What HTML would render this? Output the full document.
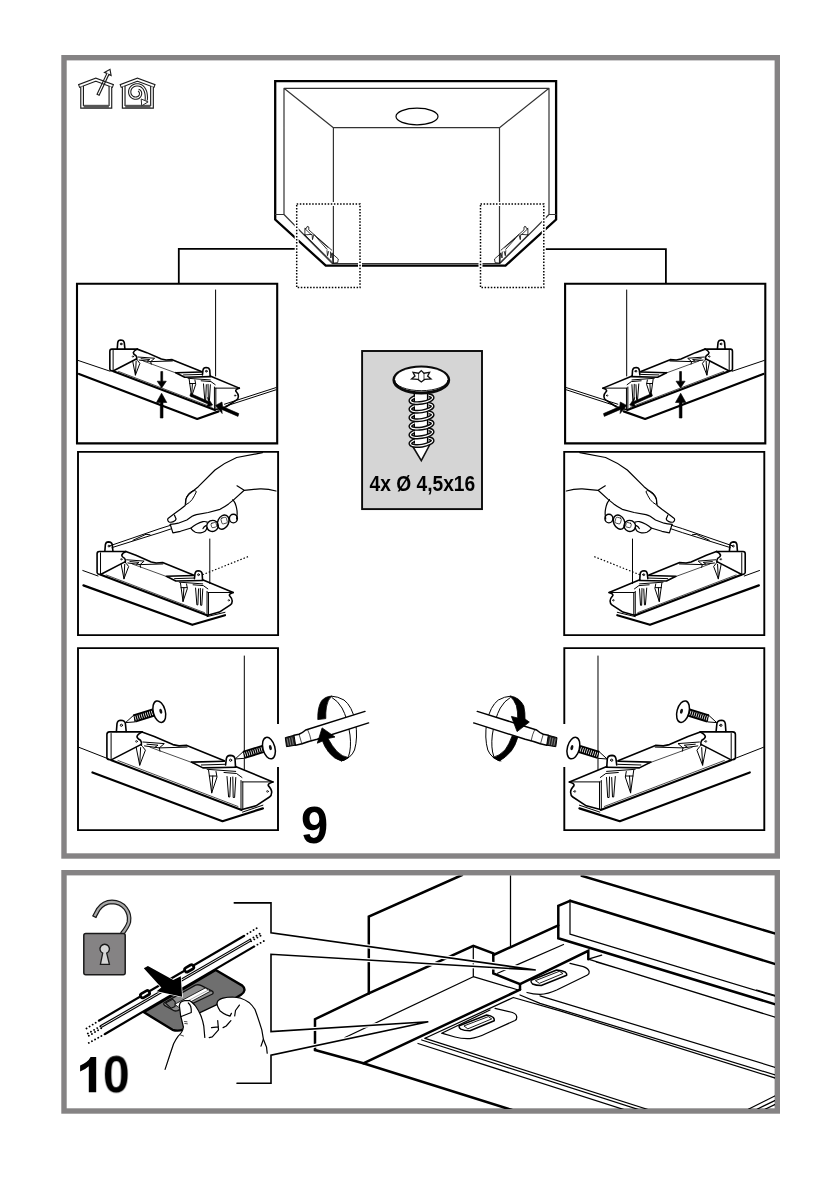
<!DOCTYPE html>
<html><head><meta charset="utf-8">
<style>
html,body{margin:0;padding:0;background:#fff;}
body{width:840px;height:1190px;overflow:hidden;font-family:"Liberation Sans",sans-serif;}
svg{display:block;position:absolute;left:0;top:0;}
text{font-family:"Liberation Sans",sans-serif;font-weight:bold;fill:#000;}
svg{will-change:transform;}
.k{vector-effect:non-scaling-stroke;fill:none;stroke:#000;stroke-width:1.6;stroke-linejoin:round;stroke-linecap:round;}
.t{vector-effect:non-scaling-stroke;fill:none;stroke:#000;stroke-width:1;stroke-linejoin:round;stroke-linecap:round;}
.h{vector-effect:non-scaling-stroke;fill:none;stroke:#000;stroke-width:0.7;stroke-linejoin:round;stroke-linecap:round;}
.b{fill:none;stroke:#000;stroke-width:2.4;stroke-linejoin:miter;}
.w{fill:#fff;stroke:#000;stroke-width:1.2;stroke-linejoin:round;}
</style></head>
<body>
<svg width="840" height="1190" viewBox="0 0 840 1190">

<rect x="64" y="57.7" width="713.3" height="798.3" fill="#fff" stroke="#858384" stroke-width="5.4" />
<rect x="64" y="872.7" width="713.3" height="238.3" fill="#fff" stroke="#858384" stroke-width="5.4" />

<g id="icons">
<g id="house">
<path d="M82.1 86V106.8H110.4V86" fill="none" stroke="#1c1c1c" stroke-width="3.8" stroke-linejoin="miter" />
<path d="M78.6 86.2L95.8 79.6L113.4 86.2" fill="none" stroke="#1c1c1c" stroke-width="4" stroke-linejoin="miter" />
<path d="M82.1 86.5V106.8H110.4V86.5" fill="none" stroke="#fff" stroke-width="1.5" stroke-linejoin="miter" />
<path d="M79.6 85.9L95.8 79.6L112.4 85.9" fill="none" stroke="#fff" stroke-width="1.7" stroke-linejoin="miter" />
<rect x="83.6" y="104.8" width="25.3" height="3.8" fill="#555" />
</g>
<g transform="translate(41.6,0)"><g>
<path d="M82.1 86V106.8H110.4V86" fill="none" stroke="#1c1c1c" stroke-width="3.8" stroke-linejoin="miter" />
<path d="M78.6 86.2L95.8 79.6L113.4 86.2" fill="none" stroke="#1c1c1c" stroke-width="4" stroke-linejoin="miter" />
<path d="M82.1 86.5V106.8H110.4V86.5" fill="none" stroke="#fff" stroke-width="1.5" stroke-linejoin="miter" />
<path d="M79.6 85.9L95.8 79.6L112.4 85.9" fill="none" stroke="#fff" stroke-width="1.7" stroke-linejoin="miter" />
<rect x="83.6" y="104.8" width="25.3" height="3.8" fill="#555" />
</g>
</g>
<path d="M97.06 94.2L106.9 73.4L104.5 72.4L110 69.3L111.1 75.5L108.9 74.4L99.14 95.2Z" fill="none" stroke="#1c1c1c" stroke-width="1.15" />
<path d="M138.3 90.3 L138.9 90.5 L139.4 90.9 L139.9 91.4 L140.3 92.0 L140.5 92.7 L140.6 93.5 L140.5 94.4 L140.2 95.3 L139.8 96.2 L139.1 96.9 L138.2 97.6 L137.1 98.0 L135.9 98.2 L134.7 98.1 L133.4 97.7 L132.3 97.1 L131.3 96.2 L130.4 95.0 L129.9 93.6 L129.7 92.2 L129.8 90.7 L130.2 89.2 L131.0 87.8 L132.1 86.7 L133.4 85.8 L134.9 85.2 L136.4 84.9 L138.0 84.9 L139.6 85.2 L141.2 85.8 L142.6 86.8 L143.7 88.0 L144.6 89.5 L145.4 91.2 L145.9 93.0 L146.2 95.0 L146.4 97.5 L146.2 100.3" fill="none" stroke="#1c1c1c" stroke-width="3.3" stroke-linecap="butt" stroke-linejoin="round" />
<path d="M138.3 90.3 L138.9 90.5 L139.4 90.9 L139.9 91.4 L140.3 92.0 L140.5 92.7 L140.6 93.5 L140.5 94.4 L140.2 95.3 L139.8 96.2 L139.1 96.9 L138.2 97.6 L137.1 98.0 L135.9 98.2 L134.7 98.1 L133.4 97.7 L132.3 97.1 L131.3 96.2 L130.4 95.0 L129.9 93.6 L129.7 92.2 L129.8 90.7 L130.2 89.2 L131.0 87.8 L132.1 86.7 L133.4 85.8 L134.9 85.2 L136.4 84.9 L138.0 84.9 L139.6 85.2 L141.2 85.8 L142.6 86.8 L143.7 88.0 L144.6 89.5 L145.4 91.2 L145.9 93.0 L146.2 95.0 L146.4 97.5 L146.2 100.3" fill="none" stroke="#fff" stroke-width="1.2" stroke-linecap="butt" stroke-linejoin="round" />
<path d="M141.2 99L148.1 101.9L141.7 105.8Z" fill="#fff" stroke="#2a2a2a" stroke-width="1" />
</g>

<g id="s9">
<defs>
</defs>
<g id="p1">
<path class="t" d="M78 360.4L110 371.2 M215.6 290V376" />
<path class="k" style="stroke-width:2.2" d="M79 374L197.2 419L218.6 411.4" />
<path class="t" d="M224.5 404.2L276 387.6 M225.5 406.2L276 389.8" />
<g transform="translate(120.6,340) scale(0.78) translate(-120.7,-720.2)"><g>

<path class="k" d="M142 731.9H109.5Q106.9 732 106.9 734.6V757.5Q107 759.6 109.5 759.8L111.4 760" />
<path class="t" d="M111.1 733.5V759.5" />
<path class="k" d="M111.7 759.6L140.8 744.6" />
<path class="k" d="M116.4 731.5L117 723.6Q117.6 720.2 120.8 720.2Q124.8 720.3 125.4 723.6L126.2 731.5" />
<circle class="t" cx="121.4" cy="725.3" r="1.1" />

<path class="k" d="M142 731.9Q137.5 734 137 736.5Q137 738.5 140.5 740.3Q141.8 742 141.4 745.3" />
<circle class="h" cx="136.5" cy="741.4" r="0.9" />

<path class="k" d="M142 731.9L154.3 736.4L172.9 744.6L179 745.9L186.8 745.4L224.3 760.7" />

<path class="t" d="M142.9 742L164.3 743.6L159.3 747.9L144.5 745.9 M159.3 747.9L187.1 747.1 M159.3 747.9L160 751.2 M147 744.2L158 745.2L155 747.2" />
<path class="h" d="M150 747.2L192.9 762.9" />

<path class="t" d="M136.2 747.4L139.7 765.2L145.4 750.2L142.6 746.6 M139.7 765.2L140.6 747.6" />

<path class="k" d="M191.4 762.1L224.3 761.2 M191.4 762.1L202.9 767.9L236 767.2" />
<path class="t" d="M201.4 765L224.6 764.3" />

<path class="k" d="M225.6 765L226.3 758.8Q227 755.4 230.2 755.4Q234.4 755.5 235 758.8L235.5 766.4" />
<circle class="t" cx="230.6" cy="760.2" r="1.1" />

<path class="k" d="M235.5 766.4L272.9 781.9" />

<path class="k" d="M272.9 781.9Q267.6 783.6 268.3 785.6Q271.8 789.5 271.7 792.2Q271.6 795.6 269.5 797L256 805.8L242 809.6" />
<circle class="h" cx="267.5" cy="791.4" r="0.9" />
<path class="t" d="M242 781.9H270.5 M241 780.5V809.6 M242.8 782V809" />

<path class="t" d="M207.1 769.3L235.7 771.4 M208.6 770.4L211.7 792.9L217 777L216 771.5 M211.7 792.9L212.8 776 M209.3 776H216.6" />

<path class="t" d="M227 776.5L228.6 797L229.8 797L230.6 777.5 M232.8 777L233.2 797.5L234.6 797.5L235.8 777.5 M224 772.5L236.5 773.5L242 777.5" />

<path class="k" style="stroke-width:2" d="M111.4 760.3L241.6 810" />
<path class="h" d="M118 760.5L238 806.5" />
</g>
</g>
<path d="M160.8 371.5H162.7V381.2H166.3L161.7 388L157.2 381.2H160.8Z" fill="#000" stroke="#000" stroke-width="0.6" />
<path d="M160.3 418H163V402.5H166.8L161.6 393.2L156.4 402.5H160.3Z" fill="#000" stroke="#000" stroke-width="0.6" />
<path d="M190.6 393.5L208.6 401.5L207.6 397.4L212.6 405L207 406.9L208 404L189.9 396Z" fill="#000" stroke="#000" stroke-width="0.6" stroke-linejoin="round" />
<path d="M238.8 413.6L222.6 406.6L222 402L215.6 405.4L222.2 413.6L221.8 409.4L238 416.4Z" fill="#000" stroke="#000" stroke-width="0.6" stroke-linejoin="round" />
</g>
<g id="p2">
<path class="t" d="M82.8 570.5L98 576 M209.8 539V583.5" />
<path class="k" style="stroke-width:2.2" d="M83.4 585.4L192.3 624.8L225 615.2" />
<path class="t" d="M207.1 616.6L225 612.3" />
<path d="M202.4 574.8L249.6 556" fill="none" stroke="#000" stroke-width="1.2" stroke-dasharray="1.5 1.9" />
<g transform="translate(108.4,541.9) scale(0.82) translate(-120.7,-720.2)"><g>

<path class="k" d="M142 731.9H109.5Q106.9 732 106.9 734.6V757.5Q107 759.6 109.5 759.8L111.4 760" />
<path class="t" d="M111.1 733.5V759.5" />
<path class="k" d="M111.7 759.6L140.8 744.6" />
<path class="k" d="M116.4 731.5L117 723.6Q117.6 720.2 120.8 720.2Q124.8 720.3 125.4 723.6L126.2 731.5" />
<circle class="t" cx="121.4" cy="725.3" r="1.1" />

<path class="k" d="M142 731.9Q137.5 734 137 736.5Q137 738.5 140.5 740.3Q141.8 742 141.4 745.3" />
<circle class="h" cx="136.5" cy="741.4" r="0.9" />

<path class="k" d="M142 731.9L154.3 736.4L172.9 744.6L179 745.9L186.8 745.4L224.3 760.7" />

<path class="t" d="M142.9 742L164.3 743.6L159.3 747.9L144.5 745.9 M159.3 747.9L187.1 747.1 M159.3 747.9L160 751.2 M147 744.2L158 745.2L155 747.2" />
<path class="h" d="M150 747.2L192.9 762.9" />

<path class="t" d="M136.2 747.4L139.7 765.2L145.4 750.2L142.6 746.6 M139.7 765.2L140.6 747.6" />

<path class="k" d="M191.4 762.1L224.3 761.2 M191.4 762.1L202.9 767.9L236 767.2" />
<path class="t" d="M201.4 765L224.6 764.3" />

<path class="k" d="M225.6 765L226.3 758.8Q227 755.4 230.2 755.4Q234.4 755.5 235 758.8L235.5 766.4" />
<circle class="t" cx="230.6" cy="760.2" r="1.1" />

<path class="k" d="M235.5 766.4L272.9 781.9" />

<path class="k" d="M272.9 781.9Q267.6 783.6 268.3 785.6Q271.8 789.5 271.7 792.2Q271.6 795.6 269.5 797L256 805.8L242 809.6" />
<circle class="h" cx="267.5" cy="791.4" r="0.9" />
<path class="t" d="M242 781.9H270.5 M241 780.5V809.6 M242.8 782V809" />

<path class="t" d="M207.1 769.3L235.7 771.4 M208.6 770.4L211.7 792.9L217 777L216 771.5 M211.7 792.9L212.8 776 M209.3 776H216.6" />

<path class="t" d="M227 776.5L228.6 797L229.8 797L230.6 777.5 M232.8 777L233.2 797.5L234.6 797.5L235.8 777.5 M224 772.5L236.5 773.5L242 777.5" />

<path class="k" style="stroke-width:2" d="M111.4 760.3L241.6 810" />
<path class="h" d="M118 760.5L238 806.5" />
</g>
</g>

<path class="t" d="M110.5 545.6L160 528.6L170.2 525.4 M112 547.6L160 532.6L171.3 528.8 M133 540.3L146 534.3L150 534.8" />

<path class="t" style="stroke-width:1.2" d="M170.2 524.3L172.9 532.9L180.4 531.3L191.1 528" />

<path class="t" style="stroke-width:1.2" d="M262.5 452.7L236.7 457.5Q225 462.5 215 470L198.3 486.7L188.9 494.3Q185.7 498 185.7 500.2L185.2 505.5L180.4 509.3L173.9 514.1L168 518.4Q167 520.5 169.1 522.1Q171 522.6 173.4 521.6Q176 520.5 176.1 518.9L174.5 515.2" />
<path class="t" style="stroke-width:1.2" d="M170.2 524.3Q175 524 178.2 523.2L186.8 520L192.1 516.3Q194 515.2 196.4 514.6L208.2 512.5L220 509.3Q225 506.5 228.6 503.9L233.9 499.6L244.2 490.3L237 485.8 M244.2 490.3L260 488.8Q268 488.6 276 491" />
<path class="t" d="M185.7 503.9Q185.5 499 186.8 496.4Q189 492.5 192.1 491.1Q195.5 489.8 196.4 491.6Q194.5 496 192.1 499.6Q189.5 503 186.3 504.5" />
<path class="t" style="stroke-width:1.2" d="M232.9 499.6Q235.5 503 236.1 506.1Q237.4 511 237.1 514.6L236.6 518.9" />

<path class="t" style="stroke-width:1.2" d="M191.1 528Q193.5 526 196.4 524.3Q200 522.3 202.9 521.6Q205.5 521.3 207.1 522.1 M191.1 528.6Q193 531.2 195.4 532.3Q198 533.2 200.7 532.9Q203.2 532.4 205 531.3Q206.5 529.8 207.1 527.5 M203 528.6Q204 526.5 206 525.6" />
<ellipse class="t" style="stroke-width:1.4" cx="212.5" cy="525.9" rx="5.8" ry="5.5" transform="rotate(-25 212.5 525.9)" />
<ellipse class="t" style="stroke-width:1.4" cx="223.2" cy="522.1" rx="5.4" ry="7.4" transform="rotate(25 223.2 522.1)" />
<ellipse class="t" style="stroke-width:1.4" cx="233.4" cy="518.6" rx="4" ry="4.3" />
<rect class="h" x="211.2" y="522.8" width="5.2" height="4.6" rx="1.2" transform="rotate(-15 213.8 525)" />
<rect class="h" x="221.3" y="517.6" width="5.6" height="6" rx="1.3" transform="rotate(-15 224 520.5)" />
</g>
<g id="p3">
<path class="t" d="M78.9 747.3L110 759.5 M244.3 656V769.5" />
<path class="k" style="stroke-width:2.2" d="M92.5 772.5L222.5 821.2L262.9 808.4" />
<path class="t" d="M242.5 812.1L262.9 805.2" />
<g><g>

<path class="k" d="M142 731.9H109.5Q106.9 732 106.9 734.6V757.5Q107 759.6 109.5 759.8L111.4 760" />
<path class="t" d="M111.1 733.5V759.5" />
<path class="k" d="M111.7 759.6L140.8 744.6" />
<path class="k" d="M116.4 731.5L117 723.6Q117.6 720.2 120.8 720.2Q124.8 720.3 125.4 723.6L126.2 731.5" />
<circle class="t" cx="121.4" cy="725.3" r="1.1" />

<path class="k" d="M142 731.9Q137.5 734 137 736.5Q137 738.5 140.5 740.3Q141.8 742 141.4 745.3" />
<circle class="h" cx="136.5" cy="741.4" r="0.9" />

<path class="k" d="M142 731.9L154.3 736.4L172.9 744.6L179 745.9L186.8 745.4L224.3 760.7" />

<path class="t" d="M142.9 742L164.3 743.6L159.3 747.9L144.5 745.9 M159.3 747.9L187.1 747.1 M159.3 747.9L160 751.2 M147 744.2L158 745.2L155 747.2" />
<path class="h" d="M150 747.2L192.9 762.9" />

<path class="t" d="M136.2 747.4L139.7 765.2L145.4 750.2L142.6 746.6 M139.7 765.2L140.6 747.6" />

<path class="k" d="M191.4 762.1L224.3 761.2 M191.4 762.1L202.9 767.9L236 767.2" />
<path class="t" d="M201.4 765L224.6 764.3" />

<path class="k" d="M225.6 765L226.3 758.8Q227 755.4 230.2 755.4Q234.4 755.5 235 758.8L235.5 766.4" />
<circle class="t" cx="230.6" cy="760.2" r="1.1" />

<path class="k" d="M235.5 766.4L272.9 781.9" />

<path class="k" d="M272.9 781.9Q267.6 783.6 268.3 785.6Q271.8 789.5 271.7 792.2Q271.6 795.6 269.5 797L256 805.8L242 809.6" />
<circle class="h" cx="267.5" cy="791.4" r="0.9" />
<path class="t" d="M242 781.9H270.5 M241 780.5V809.6 M242.8 782V809" />

<path class="t" d="M207.1 769.3L235.7 771.4 M208.6 770.4L211.7 792.9L217 777L216 771.5 M211.7 792.9L212.8 776 M209.3 776H216.6" />

<path class="t" d="M227 776.5L228.6 797L229.8 797L230.6 777.5 M232.8 777L233.2 797.5L234.6 797.5L235.8 777.5 M224 772.5L236.5 773.5L242 777.5" />

<path class="k" style="stroke-width:2" d="M111.4 760.3L241.6 810" />
<path class="h" d="M118 760.5L238 806.5" />
</g>
</g>
<g><g>
<path d="M125.6 722.6L134.1 714.8L134.9 721.9Z" fill="#fff" stroke="#000" stroke-width="1" stroke-linejoin="round" />
<path d="M134.3 718.5L153.6 712.5" stroke="#000" stroke-width="8.2" fill="none" />
<path d="M135.2 718.2L153.6 712.5" stroke="#fff" stroke-width="4.6" fill="none" stroke-dasharray="0.75 1.4" />
<ellipse cx="159.3" cy="711.7" rx="6" ry="11" transform="rotate(-15 159.3 711.7)" fill="#fff" stroke="#000" stroke-width="1.5" />
<ellipse cx="160.8" cy="711.2" rx="1.4" ry="2.6" transform="rotate(-15 160.8 711.2)" fill="#111" />
</g>
</g>
<g transform="translate(109.6,36.4)"><g>
<path d="M125.6 722.6L134.1 714.8L134.9 721.9Z" fill="#fff" stroke="#000" stroke-width="1" stroke-linejoin="round" />
<path d="M134.3 718.5L153.6 712.5" stroke="#000" stroke-width="8.2" fill="none" />
<path d="M135.2 718.2L153.6 712.5" stroke="#fff" stroke-width="4.6" fill="none" stroke-dasharray="0.75 1.4" />
<ellipse cx="159.3" cy="711.7" rx="6" ry="11" transform="rotate(-15 159.3 711.7)" fill="#fff" stroke="#000" stroke-width="1.5" />
<ellipse cx="160.8" cy="711.2" rx="1.4" ry="2.6" transform="rotate(-15 160.8 711.2)" fill="#111" />
</g>
</g>
</g>
<g><g>
<path class="b" style="stroke-width:2.1" d="M77 283.7H277.2V443.4H77Z" />
<path class="b" style="stroke-width:1.9" d="M78 451.9H278.1V635.1H78Z" />
<path class="b" style="stroke-width:1.9" d="M278 724V648.1H78V830.1H278V767" />
</g>
</g>
<g transform="translate(842.3,0) scale(-1,1)"><g>
<path class="t" d="M82.8 570.5L98 576 M209.8 539V583.5" />
<path class="k" style="stroke-width:2.2" d="M83.4 585.4L192.3 624.8L225 615.2" />
<path class="t" d="M207.1 616.6L225 612.3" />
<path d="M202.4 574.8L249.6 556" fill="none" stroke="#000" stroke-width="1.2" stroke-dasharray="1.5 1.9" />
<g transform="translate(108.4,541.9) scale(0.82) translate(-120.7,-720.2)"><g>

<path class="k" d="M142 731.9H109.5Q106.9 732 106.9 734.6V757.5Q107 759.6 109.5 759.8L111.4 760" />
<path class="t" d="M111.1 733.5V759.5" />
<path class="k" d="M111.7 759.6L140.8 744.6" />
<path class="k" d="M116.4 731.5L117 723.6Q117.6 720.2 120.8 720.2Q124.8 720.3 125.4 723.6L126.2 731.5" />
<circle class="t" cx="121.4" cy="725.3" r="1.1" />

<path class="k" d="M142 731.9Q137.5 734 137 736.5Q137 738.5 140.5 740.3Q141.8 742 141.4 745.3" />
<circle class="h" cx="136.5" cy="741.4" r="0.9" />

<path class="k" d="M142 731.9L154.3 736.4L172.9 744.6L179 745.9L186.8 745.4L224.3 760.7" />

<path class="t" d="M142.9 742L164.3 743.6L159.3 747.9L144.5 745.9 M159.3 747.9L187.1 747.1 M159.3 747.9L160 751.2 M147 744.2L158 745.2L155 747.2" />
<path class="h" d="M150 747.2L192.9 762.9" />

<path class="t" d="M136.2 747.4L139.7 765.2L145.4 750.2L142.6 746.6 M139.7 765.2L140.6 747.6" />

<path class="k" d="M191.4 762.1L224.3 761.2 M191.4 762.1L202.9 767.9L236 767.2" />
<path class="t" d="M201.4 765L224.6 764.3" />

<path class="k" d="M225.6 765L226.3 758.8Q227 755.4 230.2 755.4Q234.4 755.5 235 758.8L235.5 766.4" />
<circle class="t" cx="230.6" cy="760.2" r="1.1" />

<path class="k" d="M235.5 766.4L272.9 781.9" />

<path class="k" d="M272.9 781.9Q267.6 783.6 268.3 785.6Q271.8 789.5 271.7 792.2Q271.6 795.6 269.5 797L256 805.8L242 809.6" />
<circle class="h" cx="267.5" cy="791.4" r="0.9" />
<path class="t" d="M242 781.9H270.5 M241 780.5V809.6 M242.8 782V809" />

<path class="t" d="M207.1 769.3L235.7 771.4 M208.6 770.4L211.7 792.9L217 777L216 771.5 M211.7 792.9L212.8 776 M209.3 776H216.6" />

<path class="t" d="M227 776.5L228.6 797L229.8 797L230.6 777.5 M232.8 777L233.2 797.5L234.6 797.5L235.8 777.5 M224 772.5L236.5 773.5L242 777.5" />

<path class="k" style="stroke-width:2" d="M111.4 760.3L241.6 810" />
<path class="h" d="M118 760.5L238 806.5" />
</g>
</g>

<path class="t" d="M110.5 545.6L160 528.6L170.2 525.4 M112 547.6L160 532.6L171.3 528.8 M133 540.3L146 534.3L150 534.8" />

<path class="t" style="stroke-width:1.2" d="M170.2 524.3L172.9 532.9L180.4 531.3L191.1 528" />

<path class="t" style="stroke-width:1.2" d="M262.5 452.7L236.7 457.5Q225 462.5 215 470L198.3 486.7L188.9 494.3Q185.7 498 185.7 500.2L185.2 505.5L180.4 509.3L173.9 514.1L168 518.4Q167 520.5 169.1 522.1Q171 522.6 173.4 521.6Q176 520.5 176.1 518.9L174.5 515.2" />
<path class="t" style="stroke-width:1.2" d="M170.2 524.3Q175 524 178.2 523.2L186.8 520L192.1 516.3Q194 515.2 196.4 514.6L208.2 512.5L220 509.3Q225 506.5 228.6 503.9L233.9 499.6L244.2 490.3L237 485.8 M244.2 490.3L260 488.8Q268 488.6 276 491" />
<path class="t" d="M185.7 503.9Q185.5 499 186.8 496.4Q189 492.5 192.1 491.1Q195.5 489.8 196.4 491.6Q194.5 496 192.1 499.6Q189.5 503 186.3 504.5" />
<path class="t" style="stroke-width:1.2" d="M232.9 499.6Q235.5 503 236.1 506.1Q237.4 511 237.1 514.6L236.6 518.9" />

<path class="t" style="stroke-width:1.2" d="M191.1 528Q193.5 526 196.4 524.3Q200 522.3 202.9 521.6Q205.5 521.3 207.1 522.1 M191.1 528.6Q193 531.2 195.4 532.3Q198 533.2 200.7 532.9Q203.2 532.4 205 531.3Q206.5 529.8 207.1 527.5 M203 528.6Q204 526.5 206 525.6" />
<ellipse class="t" style="stroke-width:1.4" cx="212.5" cy="525.9" rx="5.8" ry="5.5" transform="rotate(-25 212.5 525.9)" />
<ellipse class="t" style="stroke-width:1.4" cx="223.2" cy="522.1" rx="5.4" ry="7.4" transform="rotate(25 223.2 522.1)" />
<ellipse class="t" style="stroke-width:1.4" cx="233.4" cy="518.6" rx="4" ry="4.3" />
<rect class="h" x="211.2" y="522.8" width="5.2" height="4.6" rx="1.2" transform="rotate(-15 213.8 525)" />
<rect class="h" x="221.3" y="517.6" width="5.6" height="6" rx="1.3" transform="rotate(-15 224 520.5)" />
</g>
</g>
<g transform="translate(842.3,0) scale(-1,1)"><g>
<path class="t" d="M78 360.4L110 371.2 M215.6 290V376" />
<path class="k" style="stroke-width:2.2" d="M79 374L197.2 419L218.6 411.4" />
<path class="t" d="M224.5 404.2L276 387.6 M225.5 406.2L276 389.8" />
<g transform="translate(120.6,340) scale(0.78) translate(-120.7,-720.2)"><g>

<path class="k" d="M142 731.9H109.5Q106.9 732 106.9 734.6V757.5Q107 759.6 109.5 759.8L111.4 760" />
<path class="t" d="M111.1 733.5V759.5" />
<path class="k" d="M111.7 759.6L140.8 744.6" />
<path class="k" d="M116.4 731.5L117 723.6Q117.6 720.2 120.8 720.2Q124.8 720.3 125.4 723.6L126.2 731.5" />
<circle class="t" cx="121.4" cy="725.3" r="1.1" />

<path class="k" d="M142 731.9Q137.5 734 137 736.5Q137 738.5 140.5 740.3Q141.8 742 141.4 745.3" />
<circle class="h" cx="136.5" cy="741.4" r="0.9" />

<path class="k" d="M142 731.9L154.3 736.4L172.9 744.6L179 745.9L186.8 745.4L224.3 760.7" />

<path class="t" d="M142.9 742L164.3 743.6L159.3 747.9L144.5 745.9 M159.3 747.9L187.1 747.1 M159.3 747.9L160 751.2 M147 744.2L158 745.2L155 747.2" />
<path class="h" d="M150 747.2L192.9 762.9" />

<path class="t" d="M136.2 747.4L139.7 765.2L145.4 750.2L142.6 746.6 M139.7 765.2L140.6 747.6" />

<path class="k" d="M191.4 762.1L224.3 761.2 M191.4 762.1L202.9 767.9L236 767.2" />
<path class="t" d="M201.4 765L224.6 764.3" />

<path class="k" d="M225.6 765L226.3 758.8Q227 755.4 230.2 755.4Q234.4 755.5 235 758.8L235.5 766.4" />
<circle class="t" cx="230.6" cy="760.2" r="1.1" />

<path class="k" d="M235.5 766.4L272.9 781.9" />

<path class="k" d="M272.9 781.9Q267.6 783.6 268.3 785.6Q271.8 789.5 271.7 792.2Q271.6 795.6 269.5 797L256 805.8L242 809.6" />
<circle class="h" cx="267.5" cy="791.4" r="0.9" />
<path class="t" d="M242 781.9H270.5 M241 780.5V809.6 M242.8 782V809" />

<path class="t" d="M207.1 769.3L235.7 771.4 M208.6 770.4L211.7 792.9L217 777L216 771.5 M211.7 792.9L212.8 776 M209.3 776H216.6" />

<path class="t" d="M227 776.5L228.6 797L229.8 797L230.6 777.5 M232.8 777L233.2 797.5L234.6 797.5L235.8 777.5 M224 772.5L236.5 773.5L242 777.5" />

<path class="k" style="stroke-width:2" d="M111.4 760.3L241.6 810" />
<path class="h" d="M118 760.5L238 806.5" />
</g>
</g>
<path d="M160.8 371.5H162.7V381.2H166.3L161.7 388L157.2 381.2H160.8Z" fill="#000" stroke="#000" stroke-width="0.6" />
<path d="M160.3 418H163V402.5H166.8L161.6 393.2L156.4 402.5H160.3Z" fill="#000" stroke="#000" stroke-width="0.6" />
<path d="M190.6 393.5L208.6 401.5L207.6 397.4L212.6 405L207 406.9L208 404L189.9 396Z" fill="#000" stroke="#000" stroke-width="0.6" stroke-linejoin="round" />
<path d="M238.8 413.6L222.6 406.6L222 402L215.6 405.4L222.2 413.6L221.8 409.4L238 416.4Z" fill="#000" stroke="#000" stroke-width="0.6" stroke-linejoin="round" />
</g>
</g>
<g><g>
<path d="M331.4 696.1Q338 696.5 344 700Q352 706 355.5 722Q358 738 354.5 750Q351 758.5 341.4 761" class="t" />
<path d="M332 697.5Q338 701 342 708Q347.5 718 350 735Q351.5 748 348.5 756.5Q346.5 759.5 343.5 760.5" class="t" />
<path d="M317.8 719.6Q317.5 707 321.5 701Q325 696.5 331.6 696.1Q327.5 700 326.4 707Q325.5 713 325.8 718.6Z" fill="#000" stroke="#000" stroke-width="0.8" stroke-linejoin="round" />
</g>
</g>
<g transform="translate(842.3,0) scale(-1,1)"><g>
<path d="M331.4 696.1Q338 696.5 344 700Q352 706 355.5 722Q358 738 354.5 750Q351 758.5 341.4 761" class="t" />
<path d="M332 697.5Q338 701 342 708Q347.5 718 350 735Q351.5 748 348.5 756.5Q346.5 759.5 343.5 760.5" class="t" />
<path d="M324.4 737Q327 746 331 751Q337 758 343 761L349.4 757.4Q343 756 337.3 750Q333 744 330.2 736Z" fill="#000" stroke="#000" stroke-width="0.8" stroke-linejoin="round" />
</g>
</g>
<g><g>
<path d="M294 735.3L299 734.2Q303 732.5 305.7 730L365 711.4L368.6 722.9L317.1 739.3Q308 741.5 302 743.8L295.6 745.2Z" fill="#fff" stroke="none" />
<path d="M285.3 737.6L294 735.3L295.6 745.2L286.5 746.7Z" fill="#222" stroke="#000" stroke-width="1" />
<path d="M287 738.6L288.4 745.6 M289.4 738L290.8 745.2 M291.8 737.4L293.2 744.8" stroke="#aaa" stroke-width="0.7" fill="none" />
<path d="M294 735.3L299 734.2Q303 732.5 305.7 730L365 711.4 M295.6 745.2L302 743.8Q308 741.5 317.1 739.3L368.6 722.9" class="k" style="stroke-width:1.5" />
<path d="M299 734.2Q300.5 739 301.8 743.8 M307.6 729.6Q310 734.5 311.2 740.8" class="h" />
</g>
</g>
<g transform="translate(842.3,0) scale(-1,1)"><g>
<path d="M294 735.3L299 734.2Q303 732.5 305.7 730L365 711.4L368.6 722.9L317.1 739.3Q308 741.5 302 743.8L295.6 745.2Z" fill="#fff" stroke="none" />
<path d="M285.3 737.6L294 735.3L295.6 745.2L286.5 746.7Z" fill="#222" stroke="#000" stroke-width="1" />
<path d="M287 738.6L288.4 745.6 M289.4 738L290.8 745.2 M291.8 737.4L293.2 744.8" stroke="#aaa" stroke-width="0.7" fill="none" />
<path d="M294 735.3L299 734.2Q303 732.5 305.7 730L365 711.4 M295.6 745.2L302 743.8Q308 741.5 317.1 739.3L368.6 722.9" class="k" style="stroke-width:1.5" />
<path d="M299 734.2Q300.5 739 301.8 743.8 M307.6 729.6Q310 734.5 311.2 740.8" class="h" />
</g>
</g>
<g><g>
<path d="M322.1 727.9L335 737L328 738.5Q332 746 337 751.5Q342.5 757 348.5 757.5L341.4 761Q334 759 328.5 752Q324 746 322.5 741L317.3 743.2Z" fill="#000" stroke="#000" stroke-width="0.8" stroke-linejoin="round" />
</g>
</g>
<g transform="translate(842.3,0) scale(-1,1)"><g>
<path d="M332.3 696.1Q323 697 318.5 706Q317 713 317.3 719L313 722.1L325.2 731.6L330.9 716.4L324.6 718Q324.4 712 325.9 705.7Q328 700 332.3 696.1Z" fill="#000" stroke="#000" stroke-width="0.8" stroke-linejoin="round" />
</g>
</g>
<g transform="translate(842.3,0) scale(-1,1)"><g>
<path class="t" d="M78.9 747.3L110 759.5 M244.3 656V769.5" />
<path class="k" style="stroke-width:2.2" d="M92.5 772.5L222.5 821.2L262.9 808.4" />
<path class="t" d="M242.5 812.1L262.9 805.2" />
<g><g>

<path class="k" d="M142 731.9H109.5Q106.9 732 106.9 734.6V757.5Q107 759.6 109.5 759.8L111.4 760" />
<path class="t" d="M111.1 733.5V759.5" />
<path class="k" d="M111.7 759.6L140.8 744.6" />
<path class="k" d="M116.4 731.5L117 723.6Q117.6 720.2 120.8 720.2Q124.8 720.3 125.4 723.6L126.2 731.5" />
<circle class="t" cx="121.4" cy="725.3" r="1.1" />

<path class="k" d="M142 731.9Q137.5 734 137 736.5Q137 738.5 140.5 740.3Q141.8 742 141.4 745.3" />
<circle class="h" cx="136.5" cy="741.4" r="0.9" />

<path class="k" d="M142 731.9L154.3 736.4L172.9 744.6L179 745.9L186.8 745.4L224.3 760.7" />

<path class="t" d="M142.9 742L164.3 743.6L159.3 747.9L144.5 745.9 M159.3 747.9L187.1 747.1 M159.3 747.9L160 751.2 M147 744.2L158 745.2L155 747.2" />
<path class="h" d="M150 747.2L192.9 762.9" />

<path class="t" d="M136.2 747.4L139.7 765.2L145.4 750.2L142.6 746.6 M139.7 765.2L140.6 747.6" />

<path class="k" d="M191.4 762.1L224.3 761.2 M191.4 762.1L202.9 767.9L236 767.2" />
<path class="t" d="M201.4 765L224.6 764.3" />

<path class="k" d="M225.6 765L226.3 758.8Q227 755.4 230.2 755.4Q234.4 755.5 235 758.8L235.5 766.4" />
<circle class="t" cx="230.6" cy="760.2" r="1.1" />

<path class="k" d="M235.5 766.4L272.9 781.9" />

<path class="k" d="M272.9 781.9Q267.6 783.6 268.3 785.6Q271.8 789.5 271.7 792.2Q271.6 795.6 269.5 797L256 805.8L242 809.6" />
<circle class="h" cx="267.5" cy="791.4" r="0.9" />
<path class="t" d="M242 781.9H270.5 M241 780.5V809.6 M242.8 782V809" />

<path class="t" d="M207.1 769.3L235.7 771.4 M208.6 770.4L211.7 792.9L217 777L216 771.5 M211.7 792.9L212.8 776 M209.3 776H216.6" />

<path class="t" d="M227 776.5L228.6 797L229.8 797L230.6 777.5 M232.8 777L233.2 797.5L234.6 797.5L235.8 777.5 M224 772.5L236.5 773.5L242 777.5" />

<path class="k" style="stroke-width:2" d="M111.4 760.3L241.6 810" />
<path class="h" d="M118 760.5L238 806.5" />
</g>
</g>
<g><g>
<path d="M125.6 722.6L134.1 714.8L134.9 721.9Z" fill="#fff" stroke="#000" stroke-width="1" stroke-linejoin="round" />
<path d="M134.3 718.5L153.6 712.5" stroke="#000" stroke-width="8.2" fill="none" />
<path d="M135.2 718.2L153.6 712.5" stroke="#fff" stroke-width="4.6" fill="none" stroke-dasharray="0.75 1.4" />
<ellipse cx="159.3" cy="711.7" rx="6" ry="11" transform="rotate(-15 159.3 711.7)" fill="#fff" stroke="#000" stroke-width="1.5" />
<ellipse cx="160.8" cy="711.2" rx="1.4" ry="2.6" transform="rotate(-15 160.8 711.2)" fill="#111" />
</g>
</g>
<g transform="translate(109.6,36.4)"><g>
<path d="M125.6 722.6L134.1 714.8L134.9 721.9Z" fill="#fff" stroke="#000" stroke-width="1" stroke-linejoin="round" />
<path d="M134.3 718.5L153.6 712.5" stroke="#000" stroke-width="8.2" fill="none" />
<path d="M135.2 718.2L153.6 712.5" stroke="#fff" stroke-width="4.6" fill="none" stroke-dasharray="0.75 1.4" />
<ellipse cx="159.3" cy="711.7" rx="6" ry="11" transform="rotate(-15 159.3 711.7)" fill="#fff" stroke="#000" stroke-width="1.5" />
<ellipse cx="160.8" cy="711.2" rx="1.4" ry="2.6" transform="rotate(-15 160.8 711.2)" fill="#111" />
</g>
</g>
</g>
</g>
<g transform="translate(842.3,0) scale(-1,1)"><g>
<path class="b" style="stroke-width:2.1" d="M77 283.7H277.2V443.4H77Z" />
<path class="b" style="stroke-width:1.9" d="M78 451.9H278.1V635.1H78Z" />
<path class="b" style="stroke-width:1.9" d="M278 724V648.1H78V830.1H278V767" />
</g>
</g>
<path class="b" style="stroke-width:1.8" d="M178.8 283V248.9H296" />
<path class="b" style="stroke-width:1.8" d="M665.9 283V249.1H544.6" />

<path class="b" style="stroke-width:2.3" d="M325.8 265.6L275.2 219.5V81.2H556.1V219.5L505.5 265.6Z" />
<path class="t" style="stroke:#333;stroke-width:1.2" d="M332.4 263.7L284 214.5V88.3H549V214.5L499.8 263.7Z M284 88.3L333.4 127.7H499.5L549 88.3 M333.4 127.7V263.7 M499.5 127.7V263.7 M275.5 214.5H284 M549 214.5H556" />
<ellipse cx="417" cy="116.5" rx="21" ry="8.3" class="t" style="stroke-width:1.2" />
<g><g>
<path class="h" style="stroke-width:0.8" d="M304.9 234.9V228.6L306.6 228.2L306.9 226.8Q307.9 225.8 308.8 227L308.8 229.9L331.7 250.1 M304.9 234.9L332.3 262 M304.9 228.6L311 234.4L312.1 234.6L312.5 239.6L313.6 235.5 M304.9 234.9L311 234.4 M314 234.6L327 249.3 M327 250.7L327.5 255.7L328.6 251.5 M330.5 252L330.8 258L331.8 253 M332.3 253.7L338.3 259L337.7 262.6L332.9 263.2L332.3 253.7 M318 238.5L328 247.5" />
</g>
</g>
<g transform="translate(832.8,0) scale(-1,1)"><g>
<path class="h" style="stroke-width:0.8" d="M304.9 234.9V228.6L306.6 228.2L306.9 226.8Q307.9 225.8 308.8 227L308.8 229.9L331.7 250.1 M304.9 234.9L332.3 262 M304.9 228.6L311 234.4L312.1 234.6L312.5 239.6L313.6 235.5 M304.9 234.9L311 234.4 M314 234.6L327 249.3 M327 250.7L327.5 255.7L328.6 251.5 M330.5 252L330.8 258L331.8 253 M332.3 253.7L338.3 259L337.7 262.6L332.9 263.2L332.3 253.7 M318 238.5L328 247.5" />
</g>
</g>

<rect x="296.7" y="204" width="63.3" height="83.6" fill="none" stroke="#fff" stroke-width="4" />
<rect x="480.5" y="204" width="63.3" height="83.6" fill="none" stroke="#fff" stroke-width="4" />
<rect x="296.7" y="204" width="63.3" height="83.6" fill="none" stroke="#000" stroke-width="1.5" stroke-dasharray="1.5 1.6" />
<rect x="480.5" y="204" width="63.3" height="83.6" fill="none" stroke="#000" stroke-width="1.5" stroke-dasharray="1.5 1.6" />
</g>

<g id="screwbox">
<defs><clipPath id="thr"><rect x="-15" y="0" width="30" height="7" /><rect x="-15" y="-7" width="8.5" height="14" /><rect x="7.5" y="-7" width="7.5" height="14" /></clipPath></defs>
<rect x="362.1" y="351" width="119.9" height="158.1" fill="#d5d5d5" stroke="#0a0a0a" stroke-width="1.9" />
<path d="M414.3 392V444.5L421.3 460.7L428.3 444.5V392Z" fill="#fff" stroke="none" />
<path d="M414.3 392V443 M427.6 392V443" class="k" style="stroke-width:1.4" />
<path d="M412.2 445.5L421.3 460.7L430.4 443.5" fill="#fff" stroke="#111" stroke-width="1.6" stroke-linejoin="miter" />
<g transform="translate(421.5,399.1) rotate(-9)"><ellipse rx="11.2" ry="3.7" fill="none" stroke="#0a0a0a" stroke-width="4" clip-path="url(#thr)" /><ellipse rx="11.2" ry="3.7" fill="none" stroke="#fff" stroke-width="1.1" clip-path="url(#thr)" /></g>
<g transform="translate(421.5,407.7) rotate(-9)"><ellipse rx="11.2" ry="3.7" fill="none" stroke="#0a0a0a" stroke-width="4" clip-path="url(#thr)" /><ellipse rx="11.2" ry="3.7" fill="none" stroke="#fff" stroke-width="1.1" clip-path="url(#thr)" /></g>
<g transform="translate(421.5,416.2) rotate(-9)"><ellipse rx="11.2" ry="3.7" fill="none" stroke="#0a0a0a" stroke-width="4" clip-path="url(#thr)" /><ellipse rx="11.2" ry="3.7" fill="none" stroke="#fff" stroke-width="1.1" clip-path="url(#thr)" /></g>
<g transform="translate(421.5,424.8) rotate(-9)"><ellipse rx="11.2" ry="3.7" fill="none" stroke="#0a0a0a" stroke-width="4" clip-path="url(#thr)" /><ellipse rx="11.2" ry="3.7" fill="none" stroke="#fff" stroke-width="1.1" clip-path="url(#thr)" /></g>
<g transform="translate(421.5,433.4) rotate(-9)"><ellipse rx="11.2" ry="3.7" fill="none" stroke="#0a0a0a" stroke-width="4" clip-path="url(#thr)" /><ellipse rx="11.2" ry="3.7" fill="none" stroke="#fff" stroke-width="1.1" clip-path="url(#thr)" /></g>
<g transform="translate(421.5,442.0) rotate(-9)"><ellipse rx="11.2" ry="3.7" fill="none" stroke="#0a0a0a" stroke-width="4" clip-path="url(#thr)" /><ellipse rx="11.2" ry="3.7" fill="none" stroke="#fff" stroke-width="1.1" clip-path="url(#thr)" /></g>

<ellipse cx="421.3" cy="380" rx="27.8" ry="13.5" fill="#0a0a0a" stroke="#0a0a0a" stroke-width="2.2" /><ellipse cx="421.3" cy="379.5" rx="26.4" ry="12" fill="#fff" stroke="none" />
<path d="M394.8 380.5A26.5 10.2 0 0 0 447.8 380.5" class="h" style="stroke-width:0.9" />
<path d="M421.3 370.6L424 373.2L429.6 372.4L427.6 376.1L431 379L424.6 379.4L421.3 382L418 379.4L411.6 379L415 376.1L413 372.4L418.6 373.2Z" fill="#fff" stroke="#111" stroke-width="1.3" stroke-linejoin="miter" />
<path d="M418.6 373.4V379.2 M424 373.4V379.2" class="h" />
<text x="369.6" y="491.4" font-size="22.8" textLength="105.6" lengthAdjust="spacingAndGlyphs">4x Ø 4,5x16</text>
</g>

<g id="s10">
<defs><clipPath id="c10"><rect x="66.8" y="875.6" width="708.2" height="233.3" /></clipPath></defs>
<g clip-path="url(#c10)">

<g class="k" style="stroke-width:2.5;stroke-linejoin:miter">
<path d="M462 875L368.8 916.5V993.4" />
<path d="M315 1050V1019.2L368.8 993.4L473.3 945.8L493.3 953.3V973.3L520 984.2V989.6" />
<path d="M315 1050L363.3 1063.3L512 1110" />
<path d="M363.3 1063.3L520 989.6" />
<path d="M493.3 955L558.3 925.4" />
<path d="M520 984.2L588.3 950.8V959.2" />
<path d="M581.7 875.8L776 933.8" />
<path d="M570 900.8L558.3 905.8V938.3L776 1004.5" />
<path d="M570 900.8L776 964.3" />
</g>

<g class="t" style="stroke-width:1.25">
<path d="M510.5 875V945.8" />
<path d="M570 901.7V934.2L776 996.5" />
<path d="M473.3 946.7V976.7L345 1037.5 M473.3 976.7L518.3 990" />
<path d="M497.5 973.3L563.5 944.5" />
<path d="M588.3 959.2L776 1017.5 M588.3 959.2L601.7 955.2 M596 961.8L640 975" />
<path d="M756.7 990L776 995.8" />
<path d="M425 1038.3L513.3 997.5L560 1010.8L776 1078.3" />
<path d="M520 995L540 1003.3L776 1075.2" />
<path d="M540 995.8L776 1067.6" />
<path d="M425 1038.3L648 1109.5 M421.7 1040L640 1110 M418 1043.5L624 1109.6" />
<path d="M748.3 1109.2L776 1095.4 M757 1109.2L776 1100 M765 1109.2L776 1104" />
<path d="M441.7 1033.3L490 1010" />

<path d="M495 1008.3L512.5 1012.5Q516.5 1014 516.7 1016.7Q517 1019.5 515 1020.5L486.7 1033.3Q478 1037.8 470 1038.6Q462 1039 455 1037L442.5 1033.3" />

<path style="stroke-width:1.5" d="M459.2 1025.8L486.7 1015Q491 1015.5 493.3 1017.5Q494.6 1019.3 494.2 1020.8L470 1030.8Q464 1030.8 460.8 1029.2Q458.6 1027.5 459.2 1025.8Z" />
<path style="stroke-width:0.9" d="M464.3 1025.8L488.3 1016.6L491.7 1018.9L468.2 1028.7Z" />

<path d="M570 963.3L583.3 966.7Q588.5 968.5 589.2 971.7Q589.5 974 587.5 975L556.7 990Q548 994 540 994.4Q533 994.3 527 992.5" />

<path style="stroke-width:1.5" d="M531.1 980.3L556.7 970Q562 970.3 565.5 972.2Q567.2 973.8 566.7 975.2L541.2 985.5Q536 985.5 532.5 984Q530.4 982.3 531.1 980.3Z" />
<path style="stroke-width:0.9" d="M535.8 980.5L559.3 971.3L563 973.5L539.7 983.2Z" />
</g>

<g id="left10">

<path d="M94.4 916.6L98.3 909.3Q103.5 902 112 901.9Q120.5 902 125.6 908.4Q130.2 914.5 128.9 922Q127.8 926.5 121.9 934" fill="none" stroke="#1a1a1a" stroke-width="4.6" />
<path d="M94.4 916.6L98.3 909.3Q103.5 902 112 901.9Q120.5 902 125.6 908.4Q130.2 914.5 128.9 922Q127.8 926.5 121.9 934" fill="none" stroke="#a9a9a9" stroke-width="2.2" />
<path d="M92.4 915.6L96.4 917.7" stroke="#1a1a1a" stroke-width="1.2" fill="none" />
<rect x="83.8" y="933.6" width="41.4" height="41.2" rx="2" fill="#858384" stroke="#1a1a1a" stroke-width="1.5" />
<path d="M102.7 953.2A4.7 4.7 0 1 1 106.7 953.2L109.4 964.3H100.4Z" fill="#d6d6d6" stroke="#1a1a1a" stroke-width="1.3" stroke-linejoin="miter" />

<path d="M143.6 1012.1L215.7 970L242.3 985.6Q244.8 987.6 244.4 990.4Q244 993 241 994.8L183 1029.6Q178 1031.5 172.5 1029.8Z" fill="#6f6f6f" stroke="#000" stroke-width="2.4" stroke-linejoin="round" />

<path d="M163.9 1003L168.1 1000.6L195.5 985.1Q198.5 984.2 201.4 985.7L212.1 991.1Q214 992.4 212.5 994L177.6 1010.7Q175.5 1011.3 174 1010.7L164.5 1005.4Q163.2 1004 163.9 1003Z" fill="#8e8e8e" stroke="#111" stroke-width="1.3" stroke-linejoin="round" />
<path d="M174.6 1004.3L205.2 988L210.6 991.1L179.6 1007.9Z" fill="#fff" stroke="#111" stroke-width="0.9" stroke-linejoin="round" />
<path d="M178 1006L208.6 989.9" stroke="#9a9a9a" stroke-width="0.8" fill="none" />
<path d="M165.5 1003L172.6 999.2L175.2 1001.8L175 1006.5L171.2 1008.3Z" fill="#777" stroke="#111" stroke-width="1.1" stroke-linejoin="round" />

<g>
<path d="M104.6 1034.2L254.3 946.4L98.8 1020.8L244.3 935.7Z" fill="none" />
<path d="M98.8 1020.8L244.3 935.7L254.3 946.4L104.6 1034.2Z" fill="#fff" stroke="none" />
<path d="M98.8 1020.8L244.3 935.7" stroke="#000" stroke-width="2.2" fill="none" />
<path d="M104.6 1034.2L254.3 946.4" stroke="#000" stroke-width="2.2" fill="none" />
<path d="M100.8 1026.7L250.7 940" stroke="#000" stroke-width="3.1" fill="none" />
<path d="M100.8 1026.7L250.7 940" stroke="#fff" stroke-width="0.9" fill="none" />
<path d="M98.8 1020.8L84.6 1029.6 M100.4 1026.3L86.2 1034.4 M101.2 1028.3L87.5 1036.6 M104.6 1034.2L87.5 1043.6 M244.3 935.7L257.1 927.9 M250.3 939.4L262.1 932.3 M251.1 941.2L263 934.4 M254.3 946.4L265.7 940" stroke="#000" stroke-width="1.8" stroke-dasharray="0.1 3.5" stroke-linecap="round" fill="none" />

<rect x="-4.8" y="-2.3" width="9.6" height="4.6" rx="2" transform="translate(145 994.2) rotate(-30)" fill="#fff" stroke="#000" stroke-width="2.7" />
<rect x="-4.8" y="-2.3" width="9.6" height="4.6" rx="2" transform="translate(189.2 968.4) rotate(-30)" fill="#fff" stroke="#000" stroke-width="2.7" />
</g>

<path d="M143.8 968.3L147.9 966L173.3 980L180.8 976.3L182.1 996.7L156.7 991.3L161.3 987.5Z" fill="#000" stroke="#fff" stroke-width="1.4" stroke-linejoin="miter" paint-order="stroke" />

<path d="M165.1 1069.4L168.9 1057.8L173.6 1043.8L178.2 1036.1Q182.5 1032 183.4 1027L180.6 1015.5L179.4 1006L180.6 1002.4L184.8 1000.6L189.5 1000.6L195.5 1006L200 1012.6L216.9 1004.6L218.1 1000.6L222.9 998.2L232.4 997L240.7 998.2L249 1002.4L255 1009.5L261.8 1029.9L263.4 1039.2L266.5 1046.9L267.2 1053.1Z" fill="#fff" stroke="none" />
<g class="t" style="stroke-width:1.2">
<path d="M165.1 1069.4L168.9 1057.8L173.6 1043.8Q176 1039 178.2 1036.1Q182.8 1032 183.4 1027L180.6 1015.5L179.4 1006Q179.6 1003.5 180.6 1002.4Q182.5 1000.8 184.8 1000.6L189.5 1000.6Q193 1002.8 195.5 1006Q199 1011 200.8 1015.5Q203 1021 203.8 1026.2L204.8 1037.5" />
<path d="M180.6 1016.7L191.3 1012.5Q191.5 1009 190.7 1006.5Q190 1004.5 188.3 1003" />
<path d="M200 1012.6L216.9 1004.6Q217 1002 218.1 1000.6Q220 999 222.9 998.2Q227.5 997 232.4 997Q237 997.2 240.7 998.2Q245.5 999.8 249 1002.4Q252.5 1005.5 255 1009.5Q258.5 1019 261.8 1029.9L263.4 1039.2Q265 1043.5 266.5 1046.9L267.2 1053.1" />
<path d="M216.9 1004.2Q218 1008 219.9 1010.7Q223 1013.3 226.4 1014.9L230 1016.1L231.4 1013.4" />
<path d="M239.4 1005.1L235.5 1010.5L234.7 1016 M230.9 1020.6L226.2 1026L223.1 1027.6 M217.7 1020.6L218.5 1029.9L212.3 1036.9L209.2 1037.6 M211.5 1027.6L218.5 1026.8 M263.4 1039.2L261 1046.1" />
<path class="h" d="M184.5 1021.5L187 1021.8 M184.8 1023.5L187.4 1023.8 M180.5 1035L183.5 1036" />
</g>
</g>

<g fill="none" stroke="#fff" stroke-width="4" stroke-linejoin="miter">
<path d="M278 933.8L535.8 970L278 954.7" />
<path d="M278 1031.2L428.3 1021.7L278 1053.6" />
</g>
<g class="k" style="stroke-width:1.6;stroke-linejoin:miter">
<path d="M234.3 902.9H271V932.9L535.8 970L271 954.3V1031.6L428.3 1021.7L271 1055.2V1083.3H237" />
</g>
</g>
</g>
<text transform="translate(301,843) scale(0.95,1)" font-size="51.5">9</text>
<path d="M96.2 1057V1092.2H88.8V1066.3Q85 1069.8 80.1 1071.6V1065.4Q87.8 1062.4 90.6 1057Z" fill="#000" />
<text transform="translate(102.9,1092.2) scale(0.935,1)" font-size="51.5">0</text>
</svg>
</body></html>
